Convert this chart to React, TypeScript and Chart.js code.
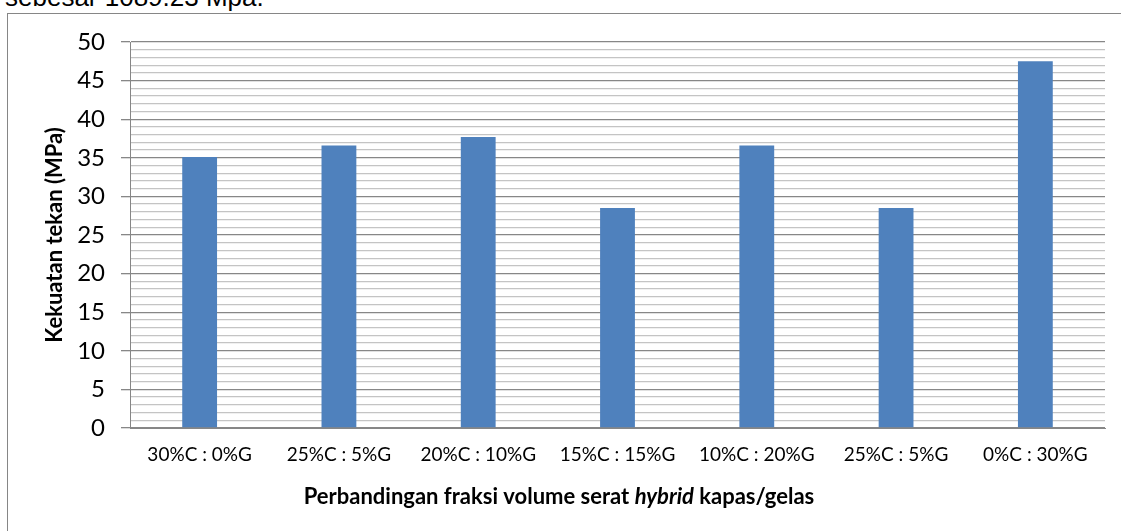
import React, { useEffect, useRef } from "react";
import { Chart, registerables } from "chart.js";

Chart.register(...registerables);

const categories = [
  "30%C : 0%G",
  "25%C : 5%G",
  "20%C : 10%G",
  "15%C : 15%G",
  "10%C : 20%G",
  "25%C : 5%G",
  "0%C : 30%G",
];
const strengthValues = [35.1, 36.6, 37.7, 28.5, 36.6, 28.5, 47.5];
const yMin = 0;
const yMax = 50;
const yMinorStep = 1;
const yMajorStep = 5;
const yTitle = "Kekuatan tekan (MPa)";
const xTitleParts = [
  { text: "Perbandingan fraksi volume serat ", italic: false },
  { text: "hybrid", italic: true },
  { text: " kapas/gelas", italic: false },
];
const headerText = "sebesar 1089.23 Mpa.";

const FONT = "Lato, 'Open Sans', sans-serif";

const titlePlugin = {
  id: "customTitles",
  afterDraw(chart: any) {
    const ctx = chart.ctx as CanvasRenderingContext2D;
    const area = chart.chartArea;
    ctx.save();
    ctx.fillStyle = "#000000";
    ctx.translate(55, (area.top + area.bottom) / 2);
    ctx.rotate(-Math.PI / 2);
    ctx.font = `bold 22px ${FONT}`;
    ctx.textAlign = "center";
    ctx.textBaseline = "middle";
    ctx.fillText(yTitle, 0, 0);
    ctx.restore();

    ctx.save();
    ctx.fillStyle = "#000000";
    ctx.textBaseline = "middle";
    ctx.textAlign = "left";
    const fonts = xTitleParts.map((p) =>
      p.italic ? `italic bold 22px ${FONT}` : `bold 22px ${FONT}`
    );
    let total = 0;
    const widths = xTitleParts.map((p, i) => {
      ctx.font = fonts[i];
      const w = ctx.measureText(p.text).width;
      total += w;
      return w;
    });
    let x = 559 - total / 2;
    const y = 497;
    xTitleParts.forEach((p, i) => {
      ctx.font = fonts[i];
      ctx.fillText(p.text, x, y);
      x += widths[i];
    });
    ctx.restore();
  },
};

export default function App() {
  const canvasRef = useRef<HTMLCanvasElement | null>(null);

  useEffect(() => {
    if (!canvasRef.current) return;
    const chart = new Chart(canvasRef.current, {
      type: "bar",
      data: {
        labels: categories,
        datasets: [
          {
            data: strengthValues,
            backgroundColor: "#4F81BD",
            borderWidth: 0,
            barPercentage: 0.25,
            categoryPercentage: 1,
          },
        ],
      },
      plugins: [titlePlugin],
      options: {
        animation: false,
        responsive: false,
        maintainAspectRatio: false,
        layout: { padding: { top: 42, right: 16, bottom: 0, left: 0 } },
        plugins: {
          legend: { display: false },
          tooltip: { enabled: false },
          title: { display: false },
        },
        scales: {
          x: {
            grid: { display: false, drawTicks: false },
            border: { display: true, color: "#868686", width: 1 },
            ticks: {
              color: "#000000",
              font: { family: FONT, size: 19 },
              padding: 15,
              maxRotation: 0,
              autoSkip: false,
            },
            afterFit(scale: any) {
              scale.height = 103;
            },
          },
          y: {
            min: yMin,
            max: yMax,
            grid: {
              color: (c: any) =>
                c.tick && c.tick.value % yMajorStep === 0 ? "#878787" : "#C4C4C4",
              tickColor: (c: any) =>
                c.tick && c.tick.value % yMajorStep === 0 ? "#878787" : "rgba(0,0,0,0)",
              lineWidth: 1.3,
              tickLength: 9,
            },
            border: { display: true, color: "#868686", width: 1 },
            ticks: {
              stepSize: yMinorStep,
              autoSkip: false,
              color: "#000000",
              font: { family: FONT, size: 24 },
              padding: 16,
              callback: (v: any) => (Number(v) % yMajorStep === 0 ? String(v) : ""),
            },
            afterFit(scale: any) {
              scale.width = 130;
            },
          },
        },
      },
    });
    return () => chart.destroy();
  }, []);

  return (
    <div
      style={{
        position: "fixed",
        left: 0,
        top: 0,
        width: 1121,
        height: 531,
        background: "#ffffff",
        overflow: "hidden",
      }}
    >
      <div
        style={{
          position: "absolute",
          left: 5,
          top: -16,
          fontFamily: "'Liberation Sans', Arial, sans-serif",
          fontSize: 26,
          lineHeight: "26px",
          whiteSpace: "nowrap",
          color: "#000",
        }}
      >
        {headerText}
      </div>
      <div
        style={{
          position: "absolute",
          left: 7,
          top: 13,
          width: 1140,
          height: 560,
          border: "1px solid #868686",
          boxSizing: "border-box",
        }}
      />
      <canvas
        ref={canvasRef}
        width={1121}
        height={531}
        style={{ position: "absolute", left: 0, top: 0, width: 1121, height: 531 }}
      />
    </div>
  );
}
